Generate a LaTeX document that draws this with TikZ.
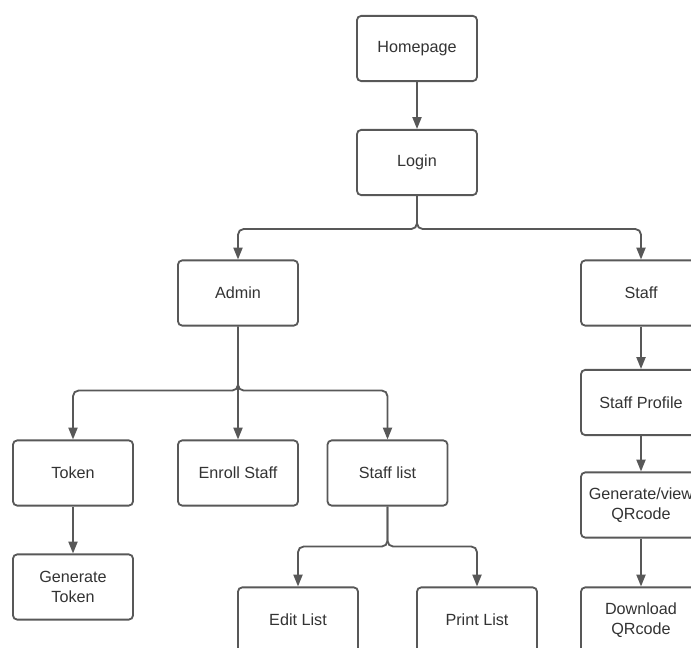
\documentclass[tikz,border=0pt]{standalone}
\usepackage{fontspec}
\setmainfont{Liberation Sans}
\usepackage{xcolor}
\definecolor{lcline}{RGB}{88,88,88}
\definecolor{lctext}{RGB}{51,51,51}
\usetikzlibrary{arrows.meta}

\begin{document}
\begin{tikzpicture}[
    x=0.025cm, y=-0.025cm,
    box/.style={rectangle, rounded corners=3pt, minimum width=3cm, minimum height=1.63cm,
      draw=lcline, line width=1.3pt, fill=white, align=center, text=lctext,
      font=\fontsize{11.5}{14}\selectfont},
    link/.style={-{Triangle[length=8.5pt,width=6.5pt]}, line width=1.3pt, draw=lcline,
      rounded corners=4pt}
  ]
    \useasboundingbox (0,0) rectangle (691,648);
    \clip (0,0) rectangle (691,648);

    % Top of the tree
    \node[box] (home)  at (417,48.5)  {Homepage};
    \node[box] (login) at (417,162.5) {Login};

    % Admin side
    \node[box] (admin)     at (238,293)   {Admin};
    \node[box] (token)     at (73,473)    {Token};
    \node[box] (enroll)    at (238,473)   {Enroll Staff};
    \node[box] (stafflist) at (387.5,473) {Staff list};
    \node[box] (gentoken)  at (73,587)    {Generate\\Token};
    \node[box] (editlist)  at (298,620)   {Edit List};
    \node[box] (printlist) at (477,620)   {Print List};

    % Staff side
    \node[box] (staff)    at (641,293)   {Staff};
    \node[box] (profile)  at (641,402.5) {Staff Profile};
    \node[box] (qrcode)   at (641,505)   {Generate/view\\QRcode};
    \node[box] (download) at (641,620)   {Download\\QRcode};

    \draw[link] (home) -- (login);
    \draw[link] (login.south) -- ++(0,33) -| (admin.north);
    \draw[link] (login.south) -- ++(0,33) -| (staff.north);

    \draw[link] (admin.south) -- ++(0,64) -| (token.north);
    \draw[link] (admin.south) -- ++(0,64) -| (enroll.north);
    \draw[link] (admin.south) -- ++(0,64) -| (stafflist.north);
    \draw[link] (token) -- (gentoken);

    \draw[link] (stafflist.south) -- ++(0,40) -| (editlist.north);
    \draw[link] (stafflist.south) -- ++(0,40) -| (printlist.north);

    \draw[link] (staff) -- (profile);
    \draw[link] (profile) -- (qrcode);
    \draw[link] (qrcode) -- (download);
  \end{tikzpicture}
\end{document}
